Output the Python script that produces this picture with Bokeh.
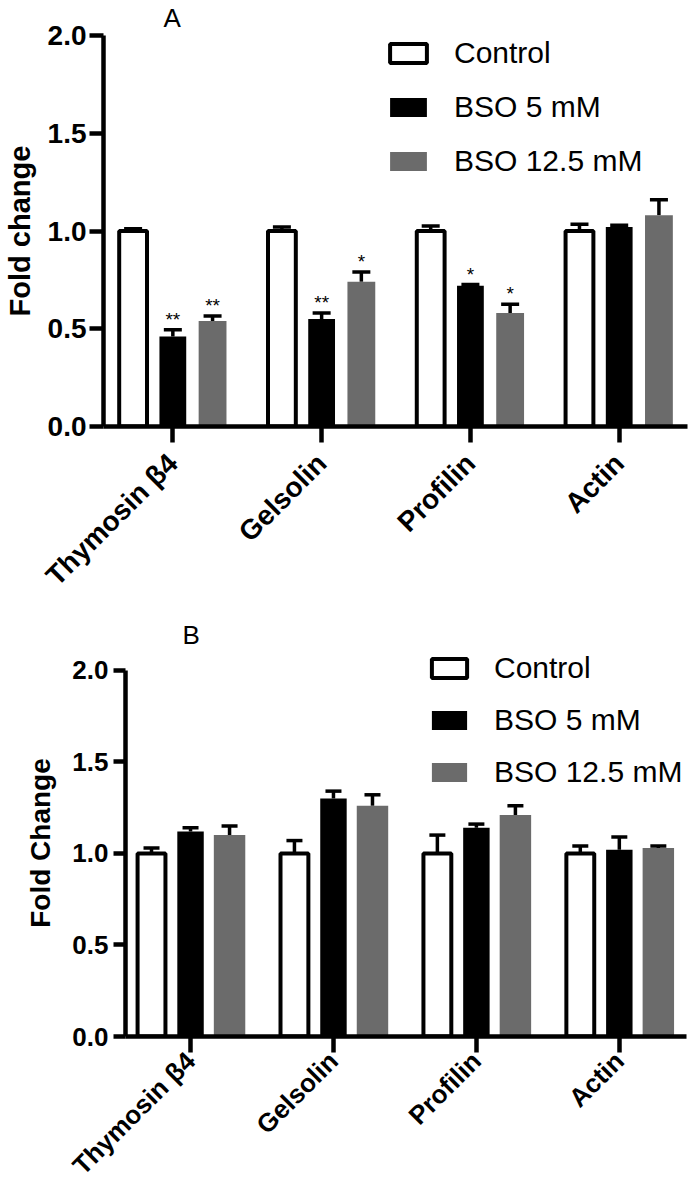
import math
from bokeh.plotting import figure
from bokeh.models import (ColumnDataSource, Range1d, FixedTicker, Whisker, TeeHead,
                          Legend, LegendItem, Title, PrintfTickFormatter)
from bokeh.embed import file_html
from bokeh.resources import INLINE
from bokeh.core.properties import value

# ---------------- data ----------------
categories = ["Thymosin β4", "Gelsolin", "Profilin", "Actin"]
series = ["Control", "BSO 5 mM", "BSO 12.5 mM"]
y_ticks = [0.0, 0.5, 1.0, 1.5, 2.0]

# Panel A
a_control = [1.00, 1.00, 1.00, 1.00]
a_control_err = [0.012, 0.02, 0.025, 0.035]
a_bso5 = [0.46, 0.55, 0.72, 1.02]
a_bso5_err = [0.035, 0.03, 0.006, 0.01]
a_bso125 = [0.54, 0.74, 0.58, 1.08]
a_bso125_err = [0.025, 0.05, 0.045, 0.08]
a_sig_bso5 = ["**", "**", "*", ""]
a_sig_bso125 = ["**", "*", "*", ""]

# Panel B
b_control = [1.00, 1.00, 1.00, 1.00]
b_control_err = [0.03, 0.07, 0.10, 0.04]
b_bso5 = [1.12, 1.30, 1.14, 1.02]
b_bso5_err = [0.02, 0.04, 0.02, 0.07]
b_bso125 = [1.10, 1.26, 1.21, 1.03]
b_bso125_err = [0.05, 0.06, 0.05, 0.01]

FONT = "Liberation Sans"
GRAY = "#6b6b6b"


def make_panel(title, ylabel, data, sigs, height, x_range, y_end, border_left, border_right,
               border_top, title_offset, title_standoff, title_valign,
               ytick_font, ytick_out, ytick_standoff, xtick_font, xtick_standoff,
               ylab_font, ylab_standoff,
               legend_font, legend_loc, legend_spacing, glyph_w, cap, bar_ws, offset):
    p = figure(width=689, height=height, output_backend="svg", toolbar_location=None,
               title=None, x_range=Range1d(*x_range), y_range=Range1d(0, y_end),
               min_border_left=border_left, min_border_top=border_top,
               min_border_right=border_right, min_border_bottom=0)
    p.xgrid.visible = False
    p.ygrid.visible = False
    p.outline_line_color = None
    p.background_fill_color = "white"

    p.add_layout(Title(text=title, align="left", offset=title_offset, standoff=title_standoff,
                       vertical_align=title_valign,
                       text_font=FONT, text_font_size="26px", text_font_style="normal",
                       text_color="black"), "above")

    idx = list(range(len(categories)))
    offsets = [-offset, 0.0, offset]
    styles = [dict(fill_color="white", line_color="black", line_width=4),
              dict(fill_color="black", line_color=None),
              dict(fill_color=GRAY, line_color=None)]
    renderers = []
    for k, (vals, errs) in enumerate(data):
        xs = [i + offsets[k] for i in idx]
        src = ColumnDataSource(dict(x=xs, top=vals,
                                    upper=[v + e for v, e in zip(vals, errs)],
                                    sig=sigs[k] if sigs[k] is not None else [""] * len(vals)))
        w = Whisker(source=src, base="x", lower="top", upper="upper",
                    line_width=3.5, line_color="black",
                    upper_head=TeeHead(size=cap, line_width=3.5, line_color="black"),
                    lower_head=None)
        p.add_layout(w)
        r = p.vbar(x="x", top="top", bottom=0, width=bar_ws[k], source=src, **styles[k])
        renderers.append(r)
        if sigs[k] is not None:
            p.text(x="x", y="upper", text="sig", source=src, text_font=value(FONT),
                   text_font_size="19px", text_align="center", text_baseline="bottom",
                   text_color="black")

    legend = Legend(items=[LegendItem(label=s, renderers=[r]) for s, r in zip(series, renderers)],
                    location=legend_loc, orientation="vertical",
                    glyph_width=glyph_w, glyph_height=24, label_standoff=23,
                    spacing=legend_spacing, padding=0, margin=0,
                    label_text_font=FONT, label_text_font_size=f"{legend_font}px",
                    label_text_color="black",
                    border_line_color=None, background_fill_alpha=0)
    p.add_layout(legend)

    xa = p.xaxis[0]
    xa.ticker = FixedTicker(ticks=idx)
    xa.major_label_overrides = {i: c for i, c in enumerate(categories)}
    xa.major_label_orientation = math.pi / 4
    xa.major_tick_out = 16
    xa.major_tick_in = 0
    xa.major_label_standoff = xtick_standoff
    xa.major_label_text_font_size = f"{xtick_font}px"

    ya = p.yaxis[0]
    ya.ticker = FixedTicker(ticks=y_ticks)
    ya.formatter = PrintfTickFormatter(format="%.1f")
    ya.bounds = (0, 2)
    ya.major_tick_out = ytick_out
    ya.major_tick_in = 0
    ya.major_label_standoff = ytick_standoff
    ya.major_label_text_font_size = f"{ytick_font}px"
    ya.axis_label = ylabel
    ya.axis_label_text_font = FONT
    ya.axis_label_text_font_style = "bold"
    ya.axis_label_text_font_size = f"{ylab_font}px"
    ya.axis_label_text_color = "black"
    ya.axis_label_standoff = ylab_standoff

    for ax in (xa, ya):
        ax.axis_line_width = 4.5
        ax.axis_line_color = "black"
        ax.major_tick_line_width = 4.5
        ax.major_tick_line_color = "black"
        ax.minor_tick_line_color = None
        ax.major_label_text_font = FONT
        ax.major_label_text_font_style = "bold"
        ax.major_label_text_color = "black"
    return p


pA = make_panel("A", "Fold change",
                [(a_control, a_control_err), (a_bso5, a_bso5_err), (a_bso125, a_bso125_err)],
                [None, a_sig_bso5, a_sig_bso125],
                height=605, x_range=(-0.466, 3.459), y_end=2.0,
                border_left=97, border_right=2, border_top=35,
                title_offset=60, title_standoff=2, title_valign="top",
                ytick_font=28, ytick_out=14, ytick_standoff=3, xtick_font=28, xtick_standoff=16,
                ylab_font=29, ylab_standoff=9,
                legend_font=30, legend_loc=(282, 248), legend_spacing=20, glyph_w=46,
                cap=18, bar_ws=[0.187, 0.18, 0.187], offset=0.267)

pB = make_panel("B", "Fold Change",
                [(b_control, b_control_err), (b_bso5, b_bso5_err), (b_bso125, b_bso125_err)],
                [None, None, None],
                height=589, x_range=(-0.455, 3.47), y_end=2.1135,
                border_left=125, border_right=3, border_top=44,
                title_offset=57, title_standoff=0, title_valign="bottom",
                ytick_font=26, ytick_out=12, ytick_standoff=5, xtick_font=26, xtick_standoff=4,
                ylab_font=28, ylab_standoff=13,
                legend_font=30, legend_loc=(302, 247), legend_spacing=18, glyph_w=44,
                cap=16, bar_ws=[0.195, 0.185, 0.22], offset=0.273)

open("out.html", "w").write(file_html([pA, pB], INLINE))
